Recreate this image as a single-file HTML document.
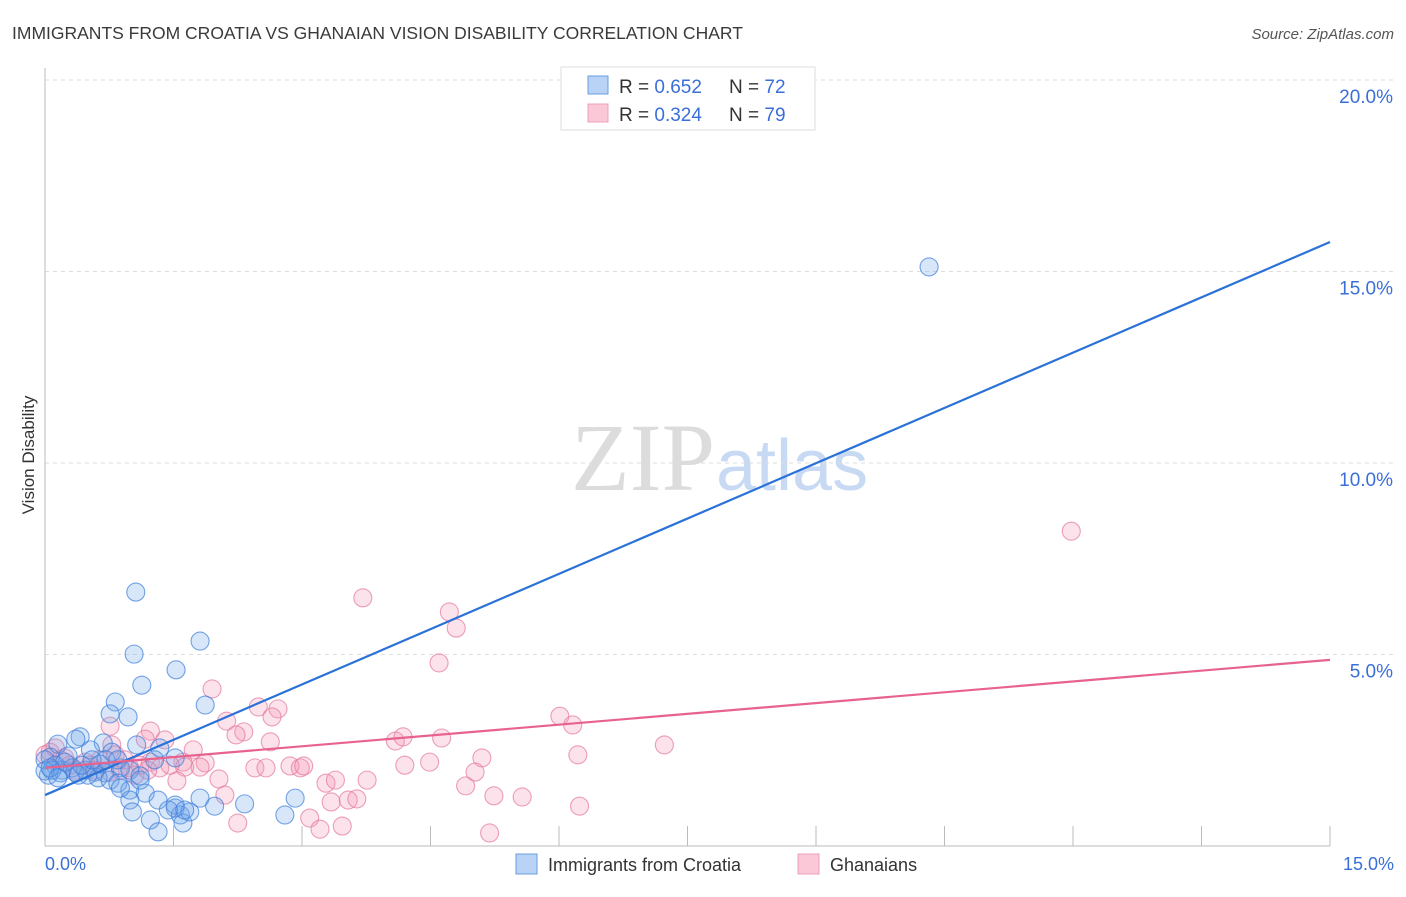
<!DOCTYPE html>
<html><head><meta charset="utf-8"><style>
body{margin:0;background:#fff;font-family:"Liberation Sans",sans-serif}
</style></head><body>
<svg width="1406" height="892" xmlns="http://www.w3.org/2000/svg">
<text x="12" y="39" font-size="17.5" fill="#3a3a3a">IMMIGRANTS FROM CROATIA VS GHANAIAN VISION DISABILITY CORRELATION CHART</text>
<text x="1394" y="39" font-size="15" fill="#555" font-style="italic" text-anchor="end">Source: ZipAtlas.com</text>
<text x="715" y="490" font-size="96" font-family="Liberation Serif,serif" fill="#dcdcdc" text-anchor="end">ZIP</text>
<text x="716" y="490" font-size="72" fill="#c8daf3">atlas</text>
<g id="grid"></g>
<line x1="45" y1="68" x2="45" y2="846" stroke="#bbb"/>
<line x1="45" y1="846" x2="1330" y2="846" stroke="#bbb"/>
<text transform="translate(34,455) rotate(-90)" font-size="17" fill="#333" text-anchor="middle">Vision Disability</text>
<text x="45" y="870" font-size="18" fill="#3a6fd8">0.0%</text>
<text x="1394" y="870" font-size="18" fill="#3a6fd8" text-anchor="end">15.0%</text>
<g id="pts"></g>
<g id="lines"></g>
<g>
<rect x="561" y="67" width="254" height="63" fill="#fff" stroke="#ddd"/>
<rect x="588" y="76" width="20" height="18" fill="#b8d3f5" stroke="#6a9de0"/>
<rect x="588" y="104" width="20" height="18" fill="#fbc8d8" stroke="#eda0b8"/>
<text x="619" y="93" font-size="19" fill="#333">R = <tspan fill="#3a6fd8">0.652</tspan></text>
<text x="729" y="93" font-size="19" fill="#333">N = <tspan fill="#3a6fd8">72</tspan></text>
<text x="619" y="121" font-size="19" fill="#333">R = <tspan fill="#3a6fd8">0.324</tspan></text>
<text x="729" y="121" font-size="19" fill="#333">N = <tspan fill="#3a6fd8">79</tspan></text>
</g>
<g>
<rect x="516" y="854" width="21" height="20" fill="#b8d3f5" stroke="#6a9de0"/>
<text x="548" y="871" font-size="18" fill="#333">Immigrants from Croatia</text>
<rect x="798" y="854" width="21" height="20" fill="#fbc8d8" stroke="#eda0b8"/>
<text x="830" y="871" font-size="18" fill="#333">Ghanaians</text>
</g>
</svg>
<script>
const yTicks=[5,10,15,20];
const xTicks=[0,1.5,3,4.5,6,7.5,9,10.5,12,13.5,15];
const blueX=[1.06,1.04,1.81,1.53,1.13,0.82,0.97,0.76,1.87,0.41,0.36,0.68,1.07,1.34,0.15,0.53,0.78,0.27,0.06,0.00,0.12,0.20,0.32,0.47,0.58,0.70,0.88,0.99,1.11,1.28,1.52,0.62,0.76,0.85,0.99,1.17,1.32,0.99,1.02,1.23,1.32,1.52,1.58,1.61,1.69,1.81,1.98,2.33,2.80,2.92,10.32,0.04,0.08,0.18,0.35,0.50,0.64,0.23,0.00,0.88,1.52,1.63,1.44,1.11,0.39,0.43,0.71,0.85,0.55,0.06,0.15];
const blueY=[6.63,5.01,5.35,4.60,4.20,3.76,3.37,3.45,3.68,2.85,2.79,2.69,2.64,2.56,2.66,2.51,2.45,2.35,2.32,2.25,2.11,1.98,2.04,1.98,1.93,1.91,2.04,1.98,1.83,2.25,2.30,1.78,1.72,1.64,1.46,1.38,1.20,1.20,0.89,0.68,0.37,0.99,0.81,0.60,0.89,1.25,1.04,1.10,0.81,1.25,15.12,1.85,1.98,1.91,1.93,1.85,2.14,2.19,1.96,1.51,1.07,0.94,0.94,1.72,1.85,2.11,2.25,2.25,2.25,2.04,1.78];
const pinkX=[11.98,3.71,4.72,4.80,4.60,1.95,6.01,6.16,7.23,6.22,2.49,2.72,2.65,2.12,2.32,2.23,1.23,1.17,0.76,2.63,4.09,4.18,4.63,1.40,1.73,2.45,2.58,2.86,2.98,3.02,1.87,1.61,1.81,1.63,1.54,4.20,4.49,5.10,5.02,4.91,3.28,3.39,3.76,2.03,2.10,5.24,5.57,6.24,3.34,3.54,3.64,2.25,3.09,3.21,3.47,5.19,1.23,0.88,0.99,0.64,0.47,0.29,0.18,0.06,0.00,0.35,0.58,0.76,1.34,1.46,1.05,1.11,0.82,0.12,0.23,0.53,0.93,1.20,0.78];
const pinkY=[8.22,6.48,6.11,5.69,4.78,4.10,3.39,3.16,2.64,2.38,3.63,3.58,3.37,3.26,2.98,2.90,3.00,2.79,3.13,2.72,2.74,2.85,2.82,2.77,2.51,2.04,2.04,2.09,2.04,2.09,2.17,2.19,2.06,2.06,1.70,2.11,2.19,2.30,1.93,1.57,1.64,1.72,1.72,1.75,1.33,1.31,1.28,1.04,1.15,1.20,1.23,0.60,0.73,0.44,0.52,0.34,2.19,1.98,2.04,2.25,2.19,2.11,2.25,2.45,2.38,1.98,1.98,1.93,2.04,2.11,1.85,2.11,2.38,2.56,2.30,2.11,2.25,1.98,2.64];
const blueTrend=[1.33,15.77];
const pinkTrend=[2.04,4.86];
const X=v=>45+v*(1285/15), Y=v=>846-v*38.3;
const NS="http://www.w3.org/2000/svg";
function mk(t,a,p){const e=document.createElementNS(NS,t);for(const k in a)e.setAttribute(k,a[k]);document.getElementById(p).appendChild(e);return e;}
yTicks.forEach(v=>{
 const l=mk('line',{x1:45,x2:1395,y1:Y(v),y2:Y(v),stroke:'#ddd','stroke-dasharray':'4,4'},'grid');
 
 
 const t=mk('text',{x:1393,y:Y(v)+23,'font-size':19,fill:'#3a6fd8','text-anchor':'end'},'grid');
 t.textContent=v.toFixed(1)+'%';
 
 
});
xTicks.slice(1).forEach(v=>{
 const l=mk('line',{x1:X(v),x2:X(v),y1:826,y2:846,stroke:'#bbb'},'grid');
 
 
});
function pts(xs,ys,fill,stroke,name){xs.forEach((x,i)=>{
 const c=mk('circle',{cx:X(x),cy:Y(ys[i]),r:9,fill:fill,stroke:stroke,'stroke-width':1.1},'pts');
 
 
});}
pts(pinkX,pinkY,'rgba(245,150,180,0.28)','rgba(228,120,160,0.7)','point-ghanaians');
pts(blueX,blueY,'rgba(110,165,235,0.28)','rgba(60,125,220,0.7)','point-croatia');
const b=mk('line',{x1:X(0),y1:Y(blueTrend[0]),x2:X(15),y2:Y(blueTrend[1]),stroke:'#2a72d8','stroke-width':2.2},'lines');


const p=mk('line',{x1:X(0),y1:Y(pinkTrend[0]),x2:X(15),y2:Y(pinkTrend[1]),stroke:'#e8628e','stroke-width':2.2},'lines');


</script>
</body></html>
